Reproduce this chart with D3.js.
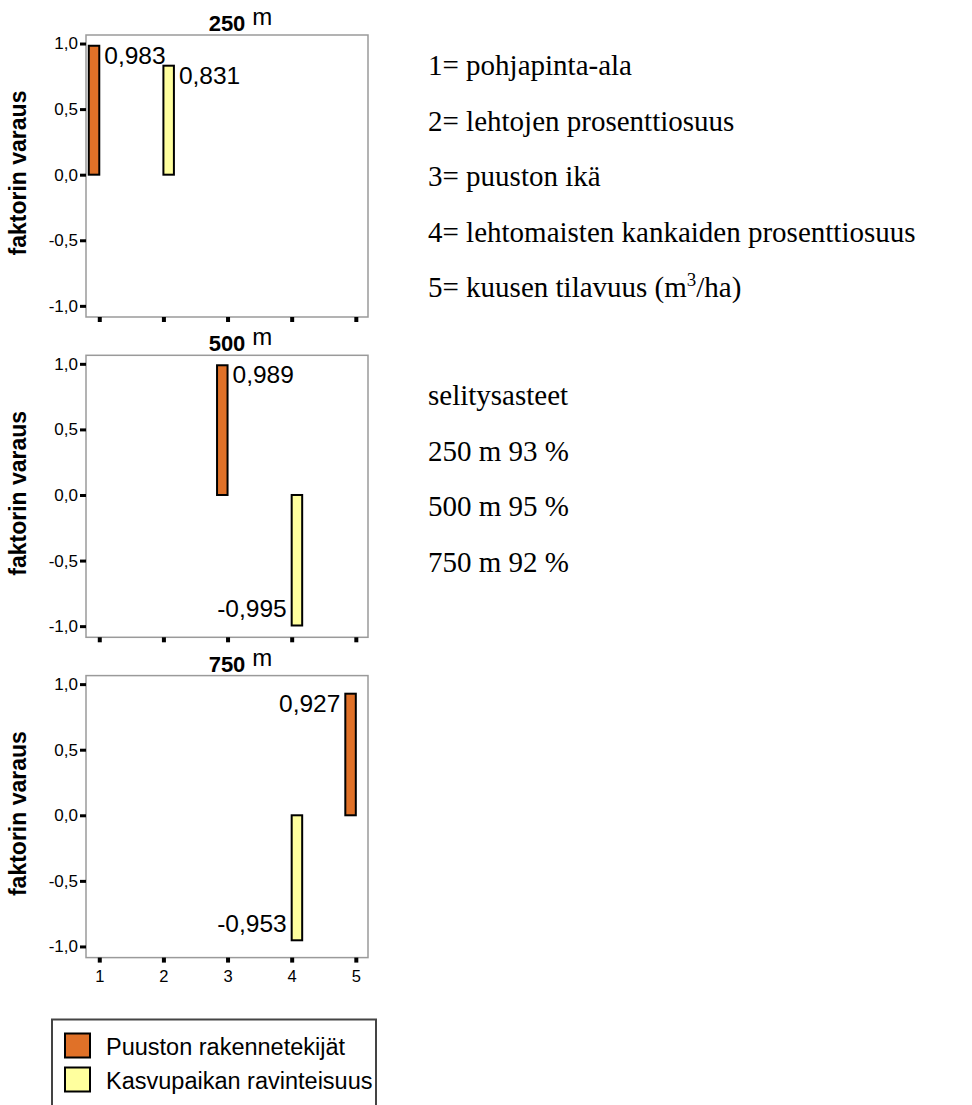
<!DOCTYPE html>
<html>
<head>
<meta charset="utf-8">
<script src="https://cdn.jsdelivr.net/npm/d3@7"></script>
<style>
  body { margin: 0; background: #fff; }
  svg text { font-family: Arial, "Liberation Sans", sans-serif; }
  .serif { font-family: "Times New Roman", "Liberation Serif", serif !important; }
</style>
</head>
<body>
<svg id="chart" width="972" height="1105"></svg>
<script>
// etäisyydet (paneelit)
const distances = ["250", "500", "750"];
const categories = [1, 2, 3, 4, 5];
const seriesNames = ["Puuston rakennetekijät", "Kasvupaikan ravinteisuus"];
// faktorilataukset, null = ei piirretä
const rakenne = [
    [0.983, null, null, null, null],
    [null, null, 0.989, null, null],
    [null, null, null, null, 0.927]
];
const ravinne = [
    [null, 0.831, null, null, null],
    [null, null, null, -0.995, null],
    [null, null, null, -0.953, null]
];
const yTicks = [-1, -0.5, 0, 0.5, 1];
const muuttujat = [
    "1= pohjapinta-ala",
    "2= lehtojen prosenttiosuus",
    "3= puuston ikä",
    "4= lehtomaisten kankaiden prosenttiosuus"
];
const selitysasteet = ["selitysasteet", "250 m 93 %", "500 m 95 %", "750 m 92 %"];

const fi = d3.formatLocale({ decimal: ",", thousands: " ", grouping: [3], currency: ["", " €"], minus: "-" });
const fmt1 = fi.format(".1f");
const fmt3 = fi.format(".3f");

const colors = d3.scaleOrdinal().domain(seriesNames).range(["#e07128", "#ffff9e"]);

const svg = d3.select("#chart");

const left = 86, right = 368, frameH = 282;
const x = d3.scaleLinear().domain([0.793, 5.19]).range([left, right]);
const xSub = d3.scaleBand().domain(seriesNames).range([-10.5, 10.5]);

distances.forEach((dist, i) => {
    const top = 35 + i * 320.3;
    const y = d3.scaleLinear().domain([-1.085, 1.065]).range([top + frameH, top]);
    const g = svg.append("g");

    g.append("rect")
        .attr("x", left).attr("y", top)
        .attr("width", right - left).attr("height", frameH)
        .attr("fill", "none").attr("stroke", "#9a9a9a").attr("stroke-width", 1.5);

    // otsikko
    const t = g.append("text")
        .attr("x", (left + right) / 2).attr("y", top - 4)
        .attr("text-anchor", "middle")
        .style("font-weight", "bold").style("font-size", "22px")
        .text(dist);
    const tw = t.node().getComputedTextLength();
    g.append("text")
        .attr("x", (left + right) / 2 + tw / 2 + 7).attr("y", top - 10)
        .style("font-size", "24px")
        .text("m");

    const yAxis = g.append("g")
        .attr("transform", `translate(${left},0)`)
        .call(d3.axisLeft(y).tickValues(yTicks).tickFormat(fmt1).tickSizeInner(6).tickSizeOuter(0).tickPadding(2))
        .attr("font-size", 17)
        .attr("font-family", "Arial, 'Liberation Sans', sans-serif");
    yAxis.select(".domain").remove();
    yAxis.selectAll("line").attr("stroke", "#000").attr("stroke-width", 3);
    yAxis.selectAll("text").style("font-size", "17px").attr("fill", "#000");

    const xAxis = g.append("g")
        .attr("transform", `translate(0,${top + frameH})`)
        .call(d3.axisBottom(x).tickValues(categories)
            .tickFormat(i === distances.length - 1 ? d3.format("d") : () => "")
            .tickSizeInner(5).tickSizeOuter(0).tickPadding(8))
        .attr("font-size", 16.5)
        .attr("font-family", "Arial, 'Liberation Sans', sans-serif");
    xAxis.select(".domain").remove();
    xAxis.selectAll("line").attr("stroke", "#000").attr("stroke-width", 4);
    xAxis.selectAll("text").style("font-size", "16.5px").attr("fill", "#000");

    g.append("text")
        .attr("transform", `translate(26,${top + frameH / 2 - 3}) rotate(-90)`)
        .attr("text-anchor", "middle")
        .style("font-weight", "bold").style("font-size", "23px")
        .text("faktorin varaus");

    const points = [];
    categories.forEach((c, j) => {
        if (rakenne[i][j] !== null) points.push({ cat: c, s: seriesNames[0], v: rakenne[i][j] });
        if (ravinne[i][j] !== null) points.push({ cat: c, s: seriesNames[1], v: ravinne[i][j] });
    });

    g.selectAll("rect.bar")
        .data(points)
        .enter()
        .append("rect")
        .attr("class", "bar")
        .attr("x", d => x(d.cat) + xSub(d.s))
        .attr("width", xSub.bandwidth())
        .attr("y", d => Math.min(y(d.v), y(0)))
        .attr("height", d => Math.abs(y(d.v) - y(0)))
        .attr("fill", d => colors(d.s))
        .attr("stroke", "#000").attr("stroke-width", 2);

    g.selectAll("text.lbl")
        .data(points)
        .enter()
        .append("text")
        .attr("class", "lbl")
        .each(function (d) {
            const x0 = x(d.cat) + xSub(d.s);
            const toLeft = d.v < 0 || d.cat === categories[categories.length - 1];
            d3.select(this)
                .attr("x", toLeft ? x0 - 5 : x0 + xSub.bandwidth() + 5)
                .attr("y", d.v >= 0 ? y(d.v) + 18 : y(d.v) - 8)
                .attr("text-anchor", toLeft ? "end" : "start");
        })
        .style("font-size", "24.5px")
        .text(d => fmt3(d.v));
});

// selitteet oikealla
const side = svg.append("g").attr("class", "serif");
side.selectAll("text.var")
    .data(muuttujat)
    .enter()
    .append("text")
    .attr("class", "serif")
    .attr("x", 428)
    .attr("y", (d, i) => 75 + i * 55.6)
    .style("font-size", "29px")
    .text(d => d);
const last = side.append("text")
    .attr("class", "serif")
    .attr("x", 428).attr("y", 75 + 4 * 55.6)
    .style("font-size", "29px");
last.append("tspan").text("5= kuusen tilavuus (m");
last.append("tspan").attr("dy", -11).style("font-size", "19px").text("3");
last.append("tspan").attr("dy", 11).text("/ha)");

side.selectAll("text.sel")
    .data(selitysasteet)
    .enter()
    .append("text")
    .attr("class", "serif")
    .attr("x", 428)
    .attr("y", (d, i) => 405 + i * 55.6)
    .style("font-size", "29px")
    .text(d => d);

// legenda
const leg = svg.append("g");
leg.append("rect")
    .attr("x", 52).attr("y", 1019.5)
    .attr("width", 324).attr("height", 100)
    .attr("fill", "#fff").attr("stroke", "#444").attr("stroke-width", 2);
seriesNames.forEach((s, i) => {
    leg.append("rect")
        .attr("x", 65).attr("y", 1033.5 + i * 34)
        .attr("width", 25).attr("height", 24)
        .attr("fill", colors(s)).attr("stroke", "#000").attr("stroke-width", 2);
    leg.append("text")
        .attr("x", 106).attr("y", 1055 + i * 34)
        .style("font-size", "23.5px")
        .text(s);
});
</script>
</body>
</html>
